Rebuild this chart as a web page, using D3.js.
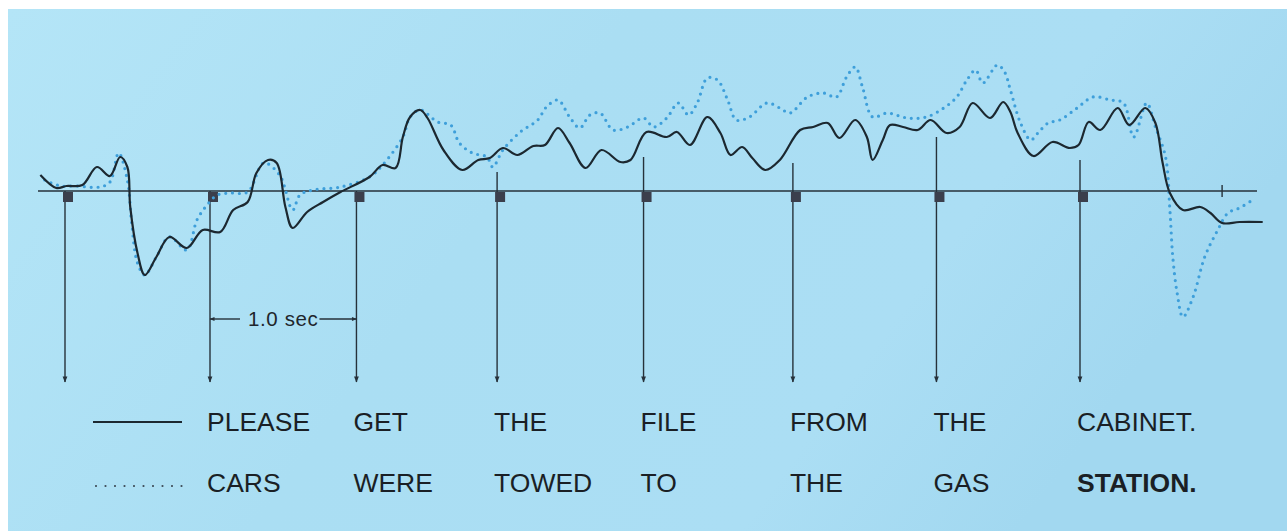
<!DOCTYPE html>
<html><head><meta charset="utf-8">
<script src="https://cdn.jsdelivr.net/npm/d3@7"></script>
<style>html,body{margin:0;padding:0;background:#fff;}svg{display:block;}</style>
</head><body>
<svg id="chart" width="1287" height="531"></svg>
<script>
// Time (s) of word onsets and the height where each onset marker starts
const markerTimes = [0, 1.0, 2.01, 2.98, 3.99, 5.02, 6.01, 7.0];
const markerTops  = [0, 0, 0, 1.9, 3.4, 2.8, 5.4, 3.1];
const wordsPlease = ["PLEASE", "GET", "THE", "FILE", "FROM", "THE", "CABINET."];
const wordsCars   = ["CARS", "WERE", "TOWED", "TO", "THE", "GAS", "STATION."];

// Solid contour: "Please get the file from the cabinet."
const solidT = [-0.17,-0.06,0.01,0.12,0.22,0.31,0.38,0.43,0.45,0.50,0.55,0.63,0.72,0.84,0.95,1.07,1.16,1.26,1.32,1.40,1.46,1.52,1.57,1.67,1.78,1.90,2.10,2.19,2.28,2.33,2.38,2.45,2.50,2.61,2.74,2.85,2.93,3.02,3.12,3.23,3.31,3.40,3.48,3.59,3.70,3.83,3.90,4.01,4.15,4.22,4.31,4.43,4.52,4.59,4.67,4.74,4.83,4.93,5.07,5.16,5.26,5.34,5.45,5.53,5.57,5.64,5.69,5.78,5.88,5.97,6.08,6.17,6.26,6.38,6.47,6.52,6.57,6.68,6.81,6.93,6.99,7.06,7.14,7.26,7.34,7.45,7.52,7.57,7.62,7.71,7.83,7.90,7.98,8.10,8.26];
const solidV = [1.6,0.3,0.5,0.6,2.4,1.5,3.4,2.4,-1.6,-6.2,-8.4,-6.6,-4.6,-5.7,-3.9,-4.1,-1.9,-1.1,1.8,3.1,2.8,-1.6,-3.7,-2.1,-1.1,-0.1,1.4,2.6,2.3,5.4,7.4,8.1,7.3,4.1,2.1,3.1,3.3,4.3,3.6,4.5,4.6,6.3,4.8,2.3,4.1,2.9,3.1,5.9,5.4,5.9,4.6,7.4,5.8,3.6,4.4,3.3,2.1,3.1,6.1,6.4,6.8,5.3,7.1,5.4,3.1,5.1,6.6,6.4,6.1,7.1,5.8,6.4,8.8,7.3,8.9,7.9,5.8,3.5,4.9,4.3,4.6,6.9,6.1,8.3,6.6,8.3,6.8,2.8,-0.2,-1.9,-1.6,-2.2,-3.2,-3.1,-3.1];

// Dotted contour: "Cars were towed to the gas station."
const dottedT = [-0.14,-0.03,0.07,0.24,0.31,0.37,0.43,0.46,0.50,0.55,0.63,0.72,0.84,0.91,0.98,1.05,1.14,1.26,1.37,1.48,1.57,1.62,1.71,1.90,2.10,2.19,2.33,2.38,2.45,2.57,2.66,2.72,2.81,2.91,2.95,3.02,3.14,3.26,3.32,3.40,3.48,3.55,3.62,3.69,3.78,3.88,3.99,4.06,4.15,4.23,4.30,4.36,4.43,4.50,4.57,4.63,4.72,4.84,4.93,5.00,5.12,5.23,5.32,5.39,5.45,5.50,5.57,5.67,5.81,5.94,6.06,6.15,6.22,6.28,6.33,6.43,6.48,6.52,6.59,6.66,6.71,6.78,6.86,6.98,7.09,7.21,7.30,7.37,7.46,7.52,7.59,7.62,7.64,7.67,7.71,7.78,7.86,7.95,8.02,8.10,8.19];
const dottedV = [1.1,0.5,0.5,0.4,0.9,3.8,1.1,-3.2,-7.2,-8.4,-6.6,-4.6,-5.9,-2.9,-1.4,-0.4,-0.2,-0.1,2.8,1.6,-1.9,-0.4,0.1,0.4,1.4,2.6,5.4,7.4,8.1,6.9,6.6,4.8,3.8,3.4,2.4,4.1,5.9,7.1,8.4,9.1,7.4,6.3,7.6,7.8,6.1,6.4,7.3,6.4,7.3,8.8,7.6,8.8,11.3,11.1,9.1,7.1,7.4,8.8,8.3,7.8,9.4,9.8,9.4,11.4,12.4,10.4,7.4,7.8,7.3,7.4,8.3,9.4,11.1,12.1,10.8,12.6,11.9,10.1,6.8,5.1,5.8,6.8,7.1,8.3,9.4,9.1,8.8,5.4,8.8,6.4,3.4,-1.9,-6.6,-10.2,-12.6,-10.6,-6.6,-3.9,-2.2,-1.7,-0.9];

const svg = d3.select("#chart");
const W = 1287, H = 531;

const defs = svg.append("defs");
const grad = defs.append("linearGradient").attr("id","bg").attr("x1","0").attr("x2","1").attr("y1","0").attr("y2","0.3");
grad.append("stop").attr("offset","0").attr("stop-color","#b4e5f7");
grad.append("stop").attr("offset","0.45").attr("stop-color","#aadef3");
grad.append("stop").attr("offset","0.8").attr("stop-color","#abdef4");
grad.append("stop").attr("offset","1").attr("stop-color","#a2d8f0");
defs.append("marker").attr("id","ah").attr("viewBox","0 0 10 10").attr("refX",9).attr("refY",5)
  .attr("markerWidth",6).attr("markerHeight",5).attr("orient","auto-start-reverse").attr("markerUnits","userSpaceOnUse")
  .append("path").attr("d","M0,1 L10,5 L0,9 Z").attr("fill","#26313a");
defs.append("marker").attr("id","ah2").attr("viewBox","0 0 10 10").attr("refX",9).attr("refY",5)
  .attr("markerWidth",7).attr("markerHeight",6).attr("orient","auto").attr("markerUnits","userSpaceOnUse")
  .append("path").attr("d","M0,1 L10,5 L0,9 Z").attr("fill","#26313a");

svg.append("rect").attr("x",8).attr("y",9).attr("width",W-8).attr("height",H-9).attr("fill","url(#bg)");

const x = d3.scaleLinear().domain([0, 1]).range([65, 210]);
const y = d3.scaleLinear().domain([0, 10]).range([191, 91]);
const arrowBottomY = 382;

// baseline
svg.append("line").attr("x1",38).attr("x2",1257).attr("y1",y(0)).attr("y2",y(0))
  .attr("stroke","#26313a").attr("stroke-width",1.6);
// end tick
svg.append("line").attr("x1",x(7.98)).attr("x2",x(7.98)).attr("y1",y(0)-6).attr("y2",y(0)+6)
  .attr("stroke","#26313a").attr("stroke-width",1.4);

// onset markers
markerTimes.forEach((t,i)=>{
  svg.append("line").attr("x1",x(t)).attr("x2",x(t)).attr("y1",y(markerTops[i])).attr("y2",arrowBottomY)
    .attr("stroke","#26313a").attr("stroke-width",1.4).attr("marker-end","url(#ah2)");
  svg.append("rect").attr("x",x(t)-2).attr("y",y(0)+1).attr("width",10).attr("height",10)
    .attr("fill","#3b3f4c");
});

// curves
const line = d3.line().x(d=>x(d[0])).y(d=>y(d[1])).curve(d3.curveCatmullRom.alpha(0.5));
const solid = solidT.map((t,i)=>[t, solidV[i]]);
const dotted = dottedT.map((t,i)=>[t, dottedV[i]]);

svg.append("path").attr("d", line(dotted)).attr("fill","none")
  .attr("stroke","#3e9fda").attr("stroke-width",3.2).attr("stroke-linecap","round")
  .attr("stroke-dasharray","0 6.8");
svg.append("path").attr("d", line(solid)).attr("fill","none")
  .attr("stroke","#1c2830").attr("stroke-width",2.2).attr("stroke-linejoin","round");

// 1.0 sec annotation
const secY = 319;
svg.append("line").attr("x1",x(1)+30).attr("x2",x(1)).attr("y1",secY).attr("y2",secY)
  .attr("stroke","#26313a").attr("stroke-width",1.4).attr("marker-end","url(#ah)");
svg.append("line").attr("x1",x(2.01)-37).attr("x2",x(2.01)).attr("y1",secY).attr("y2",secY)
  .attr("stroke","#26313a").attr("stroke-width",1.4).attr("marker-end","url(#ah)");
svg.append("text").attr("x",(x(1)+x(2.01))/2).attr("y",secY+7).attr("text-anchor","middle")
  .attr("font-family","Liberation Sans, Arial, sans-serif").attr("font-size",20.5).attr("letter-spacing",0.6)
  .attr("fill","#1f262c").text("1.0 sec");

// legend samples
svg.append("line").attr("x1",93).attr("x2",182).attr("y1",422).attr("y2",422)
  .attr("stroke","#1c2830").attr("stroke-width",2);
svg.append("line").attr("x1",96).attr("x2",182).attr("y1",486).attr("y2",486)
  .attr("stroke","#3c4a55").attr("stroke-width",2.2).attr("stroke-linecap","round").attr("stroke-dasharray","0 9.5");

// words
const font = "Liberation Sans, Arial, sans-serif";
wordsPlease.forEach((w,i)=>{
  svg.append("text").attr("x",x(markerTimes[i+1])-3).attr("y",431)
    .attr("font-family",font).attr("font-size",26.5).attr("fill","#1a1f25").text(w);
});
wordsCars.forEach((w,i)=>{
  svg.append("text").attr("x",x(markerTimes[i+1])-3).attr("y",492)
    .attr("font-family",font).attr("font-size",26.5).attr("fill","#1a1f25")
    .attr("font-weight", i===wordsCars.length-1 ? "bold" : "normal").text(w);
});
</script>
</body></html>
